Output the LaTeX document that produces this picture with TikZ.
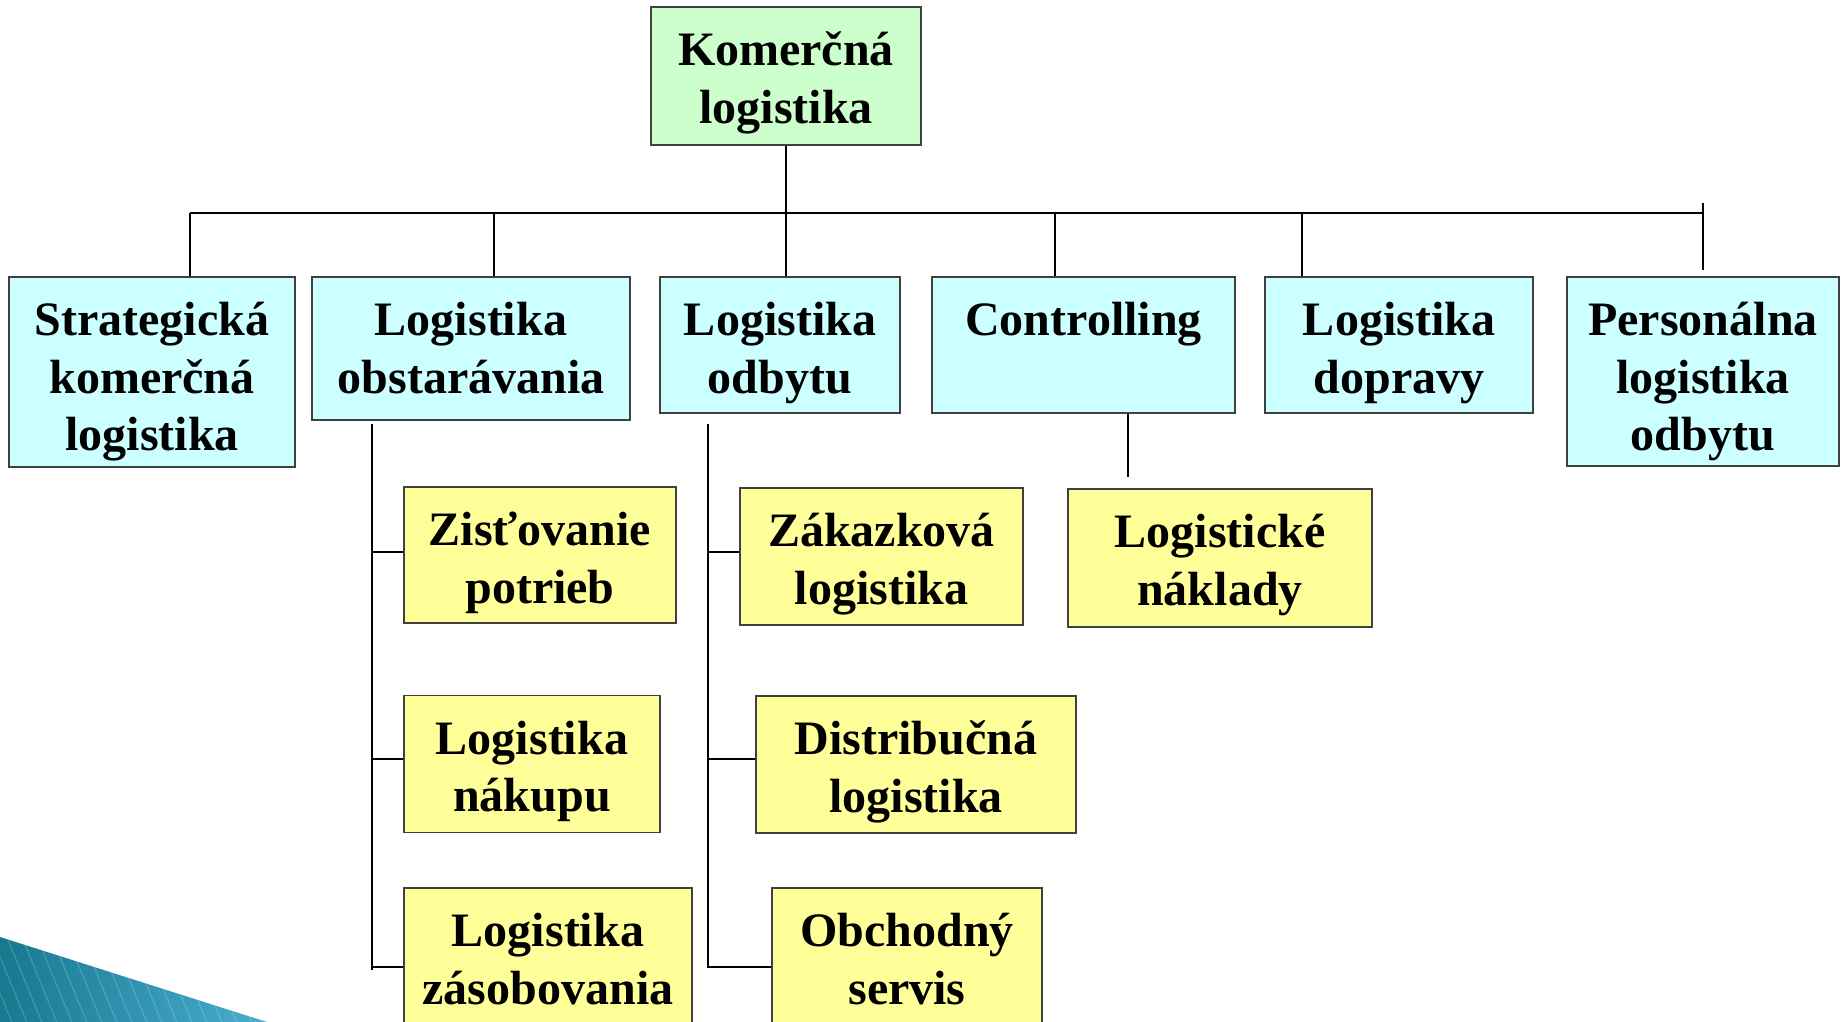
\documentclass[tikz,border=0pt]{standalone}
\usepackage{fontspec}
\setmainfont{Liberation Serif}
\definecolor{boxline}{HTML}{404040}
\definecolor{fgreen}{HTML}{CCFFCC}
\definecolor{fcyan}{HTML}{CCFFFF}
\definecolor{fyellow}{HTML}{FFFF99}
\definecolor{tealA}{HTML}{17788F}
\definecolor{tealB}{HTML}{48AED0}
\newcommand{\lnstrut}{\vrule height 42pt depth 15.5pt width 0pt}
\begin{document}
\begin{tikzpicture}[x=1pt,y=-1pt,
  box/.style={draw=boxline, line width=1.5pt, inner sep=0pt, anchor=center},
  lvl0/.style={box, fill=fgreen},
  lvl1/.style={box, fill=fcyan},
  lvl2/.style={box, fill=fyellow},
  lbl/.style={anchor=north, yshift=-17.5pt, inner sep=0pt, align=center,
    font=\fontsize{48}{57.5}\selectfont\bfseries},
  conn/.style={draw=black, line width=1.8pt}]
\useasboundingbox (0,0) rectangle (1841,1022);
\clip (0,0) rectangle (1841,1022);
\fill[white] (0,0) rectangle (1841,1022);

% decoration bottom-left
\shade[left color=tealA, right color=tealB] (0,937) -- (267,1022) -- (0,1022) -- cycle;
\begin{scope}
  \clip (0,937) -- (267,1022) -- (0,1022) -- cycle;
  \foreach \i in {-12,...,20} {
    \draw[white, opacity=0.18, line width=1.2pt] (\i*15,920) -- ++(45,110);
  }
\end{scope}

% boxes
\node[lvl0, minimum width=270pt, minimum height=138pt] (top) at (786,76) {};

\node[lvl1, minimum width=286pt, minimum height=190pt] (s1) at (152,372) {};
\node[lvl1, minimum width=318pt, minimum height=143pt] (s2) at (471,348.5) {};
\node[lvl1, minimum width=240pt, minimum height=136pt] (s3) at (780,345) {};
\node[lvl1, minimum width=303pt, minimum height=136pt] (s4) at (1083.5,345) {};
\node[lvl1, minimum width=268pt, minimum height=136pt] (s5) at (1399,345) {};
\node[lvl1, minimum width=272pt, minimum height=189pt] (s6) at (1703,371.5) {};

\node[lvl2, minimum width=272pt, minimum height=136pt] (a1) at (540,555) {};
\node[lvl2, minimum width=256pt, minimum height=137pt] (a2) at (532,764) {};
\node[lvl2, minimum width=288pt, minimum height=136pt] (a3) at (548,956) {};

\node[lvl2, minimum width=283pt, minimum height=137pt] (b1) at (881.5,556.5) {};
\node[lvl2, minimum width=320pt, minimum height=137pt] (b2) at (916,764.5) {};
\node[lvl2, minimum width=270pt, minimum height=136pt] (b3) at (907,956) {};

\node[lvl2, minimum width=304pt, minimum height=138pt] (c1) at (1220,558) {};

% texts (top-anchored in their boxes)
\node[lbl] (topt) at (top.north) {\lnstrut Komerčná\\logistika\lnstrut};
\node[lbl] (s1t) at (s1.north) {\lnstrut Strategická\\komerčná\\logistika\lnstrut};
\node[lbl] (s2t) at (s2.north) {\lnstrut Logistika\\obstarávania\lnstrut};
\node[lbl] (s3t) at (s3.north) {\lnstrut Logistika\\odbytu\lnstrut};
\node[lbl] (s4t) at (s4.north) {\lnstrut Controlling\lnstrut};
\node[lbl] (s5t) at (s5.north) {\lnstrut Logistika\\dopravy\lnstrut};
\node[lbl] (s6t) at (s6.north) {\lnstrut Personálna\\logistika\\odbytu\lnstrut};
\node[lbl] (a1t) at (a1.north) {\lnstrut Zisťovanie\\potrieb\lnstrut};
\node[lbl] (a2t) at (a2.north) {\lnstrut Logistika\\nákupu\lnstrut};
\node[lbl] (a3t) at (a3.north) {\lnstrut Logistika\\zásobovania\lnstrut};
\node[lbl] (b1t) at (b1.north) {\lnstrut Zákazková\\logistika\lnstrut};
\node[lbl] (b2t) at (b2.north) {\lnstrut Distribučná\\logistika\lnstrut};
\node[lbl] (b3t) at (b3.north) {\lnstrut Obchodný\\servis\lnstrut};
\node[lbl] (c1t) at (c1.north) {\lnstrut Logistické\\náklady\lnstrut};

% bus
\coordinate (busL) at (190,213);
\coordinate (busR) at (1703,213);
\coordinate (bus2) at (494,213);
\coordinate (bus4) at (1055,213);
\coordinate (bus5) at (1302,213);
\coordinate (tickT) at (1703,203);
\coordinate (tickB) at (1703,270);

\draw[conn] (busL) -- (busR);
\draw[conn] (top.south) -- (top.south |- s3.north);
\draw[conn] (busL) -- (busL |- s1.north);
\draw[conn] (bus2) -- (bus2 |- s2.north);
\draw[conn] (bus4) -- (bus4 |- s4.north);
\draw[conn] (bus5) -- (bus5 |- s5.north);
\draw[conn] (tickT) -- (tickB);

% obstaravania subtree
\coordinate (v1t) at (372,424);
\coordinate (v1e) at (372,970);
\coordinate (v1a) at (372,552);
\coordinate (v1b) at (372,759);
\coordinate (v1c) at (372,967);
\draw[conn] (v1t) -- (v1e);
\draw[conn] (v1a) -- (v1a -| a1.west);
\draw[conn] (v1b) -- (v1b -| a2.west);
\draw[conn] (v1c) -- (v1c -| a3.west);

% odbytu subtree
\coordinate (v2t) at (708,424);
\coordinate (v2a) at (708,552);
\coordinate (v2b) at (708,759);
\coordinate (v2c) at (708,967);
\draw[conn] (v2t) -- (v2c) -- (v2c -| b3.west);
\draw[conn] (v2a) -- (v2a -| b1.west);
\draw[conn] (v2b) -- (v2b -| b2.west);

% controlling drop
\coordinate (cd) at (1128,477);
\draw[conn] (cd |- s4.south) -- (cd);
\end{tikzpicture}
\end{document}
